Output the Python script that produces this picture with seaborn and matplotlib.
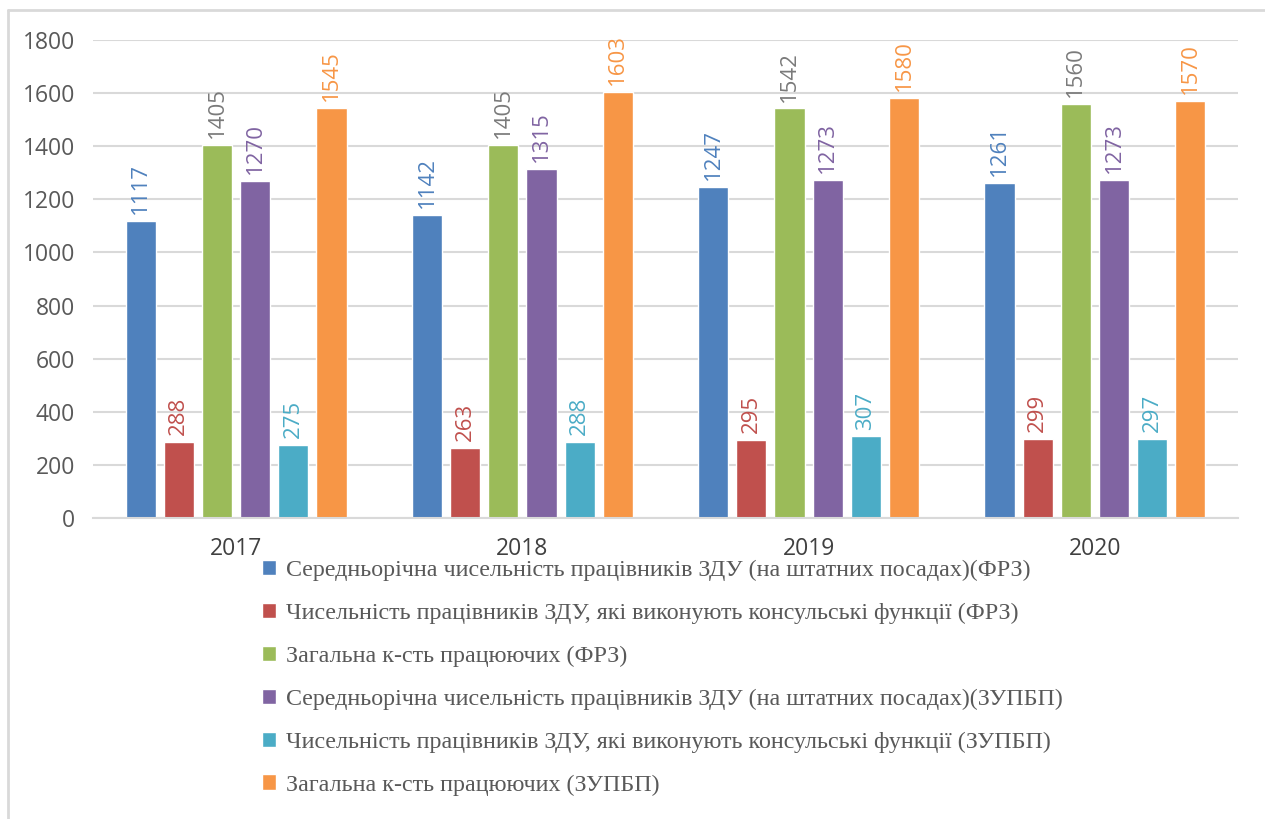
import pandas as pd
import numpy as np
import matplotlib.pyplot as plt
import seaborn as sns
from matplotlib.lines import Line2D

# дані
years = ['2017', '2018', '2019', '2020']
series = [
    'Середньорічна чисельність працівників ЗДУ (на штатних посадах)(ФРЗ)',
    'Чисельність працівників ЗДУ, які виконують консульські функції (ФРЗ)',
    'Загальна к-сть працюючих (ФРЗ)',
    'Середньорічна чисельність працівників ЗДУ (на штатних посадах)(ЗУПБП)',
    'Чисельність працівників ЗДУ, які виконують консульські функції (ЗУПБП)',
    'Загальна к-сть працюючих (ЗУПБП)',
]
avg_frz = [1117, 1142, 1247, 1261]
consul_frz = [288, 263, 295, 299]
total_frz = [1405, 1405, 1542, 1560]
avg_zupbp = [1270, 1315, 1273, 1273]
consul_zupbp = [275, 288, 307, 297]
total_zupbp = [1545, 1603, 1580, 1570]

colors = ['#4F81BD', '#C0504D', '#9BBB59', '#8064A2', '#4BACC6', '#F79646']
label_colors = ['#4F81BD', '#C0504D', '#7a7a7a', '#8064A2', '#4BACC6', '#F79646']

values = [avg_frz, consul_frz, total_frz, avg_zupbp, consul_zupbp, total_zupbp]
rows = []
for s, vals in zip(series, values):
    for y, v in zip(years, vals):
        rows.append({'Рік': y, 'Показник': s, 'Значення': v})
df = pd.DataFrame(rows)

sns.set_style('white')
plt.rcParams['font.family'] = ['Open Sans', 'DejaVu Sans']

fig = plt.figure(figsize=(12.65, 8.19), dpi=100)
ax = fig.add_axes([0.0735, 0.3675, 0.9052, 0.5837])

sns.barplot(data=df, x='Рік', y='Значення', hue='Показник', hue_order=series,
            order=years, palette=colors, width=0.8, gap=0.21, saturation=1,
            ax=ax, legend=True)

for cont, c in zip(ax.containers, label_colors):
    ax.bar_label(cont, fmt='%d', rotation=90, padding=5, color=c, fontsize=16)

ax.set_ylim(0, 1800)
ax.set_yticks(np.arange(0, 1801, 200))
ax.yaxis.grid(True, color='#D9D9D9', linewidth=1.5)
ax.set_axisbelow(True)
for sp in ['top', 'right', 'left']:
    ax.spines[sp].set_visible(False)
ax.spines['bottom'].set_color('#D9D9D9')
ax.spines['bottom'].set_linewidth(1.5)
ax.tick_params(axis='y', length=0, pad=13, labelsize=16.5, labelcolor='#595959')
ax.tick_params(axis='x', length=0, pad=14, labelsize=16.5, labelcolor='#404040')
ax.set_xlabel('')
ax.set_ylabel('')

handles, labels = ax.get_legend_handles_labels()
ax.get_legend().remove()
fig.legend(handles, labels, loc='upper left', bbox_to_anchor=(0.19, 0.343),
           frameon=False, ncol=1, handlelength=0.6, handleheight=0.6,
           handletextpad=0.42, labelspacing=0.905, labelcolor='#595959',
           prop={'family': 'Liberation Serif', 'size': 17.3})

# рамка
fig.add_artist(Line2D([0.0063, 0.0063], [0.0, 0.9878], color='#D9D9D9', linewidth=2))
fig.add_artist(Line2D([0.0063, 1.0], [0.9878, 0.9878], color='#D9D9D9', linewidth=2))

plt.savefig('out.png', dpi=100)
